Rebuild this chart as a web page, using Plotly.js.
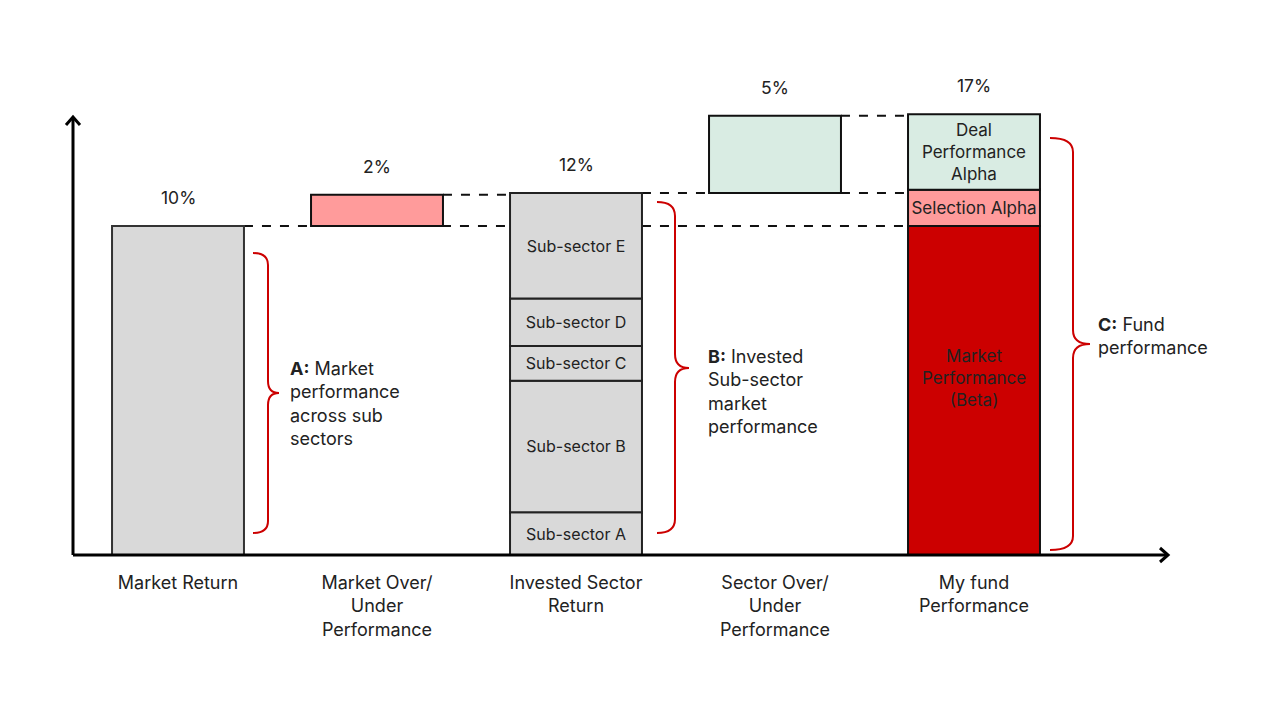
<!DOCTYPE html>
<html>
<head>
<meta charset="utf-8">
<script src="https://cdn.plot.ly/plotly-3.0.1.min.js"></script>
<style>html,body{margin:0;padding:0;background:#fff;}#chart{width:1280px;height:720px;}</style>
</head>
<body>
<div id="chart"></div>
<script>
// ---- data ----
const categories = ['Market Return', 'Market Over/<br>Under<br>Performance', 'Invested Sector<br>Return', 'Sector Over/<br>Under<br>Performance', 'My fund<br>Performance'];
const totalLabels = ['10%', '2%', '12%', '5%', '17%'];
const marketReturn = 10;
const marketOver = 0.95;
const subSectorNames = ['Sub-sector A', 'Sub-sector B', 'Sub-sector C', 'Sub-sector D', 'Sub-sector E'];
const subSectorValues = [1.3, 4.0, 1.05, 1.45, 3.2];
const sectorOver = 2.35;
const fundNames = ['Market<br>Performance<br>(Beta)', 'Selection Alpha', 'Deal<br>Performance<br>Alpha'];
const fundValues = [10, 1.1, 2.3];
const braceLabels = ['<b>A:</b> Market<br>performance<br>across sub<br>sectors', '<b>B:</b> Invested<br>Sub-sector<br>market<br>performance', '<b>C:</b> Fund<br>performance'];

// ---- style ----
const FONT = 'Inter, "Open Sans", sans-serif';
const TXT = '#222222';
const GREY = '#d9d9d9', PINK = '#ff9b9b', GREEN = '#d9ece3', RED = '#cc0000';
const BW = 0.663;
const half = BW / 2;

// layout geometry (pixels)
const L = 73, R = 1168, T = 60, B = 555;
const px = p => (p - L) / (R - L);
const py = p => (B - p) / (B - T);

const traces = [];
function addBar(x, base, h, color, text, lineColor, size) {
  traces.push({
    type: 'bar', x: [x], y: [h], base: [base], width: BW,
    marker: { color: color, line: { color: lineColor || '#111', width: 2 } },
    text: text ? [text] : undefined,
    textposition: text ? 'inside' : 'none',
    insidetextanchor: 'middle',
    constraintext: 'none',
    textfont: { family: FONT, size: size || 16, color: TXT },
    hoverinfo: 'skip', showlegend: false
  });
}

// Market Return
addBar(0, 0, marketReturn, GREY, null, '#333');
// Market over/under
addBar(1, marketReturn, marketOver, PINK, null);
// Invested sector
let cum = 0;
subSectorValues.forEach((v, i) => { addBar(2, cum, v, GREY, subSectorNames[i], '#222'); cum += v; });
const sectorTotal = cum;
// Sector over/under
addBar(3, sectorTotal, sectorOver, GREEN, null);
// Fund
let fc = 0;
const fundColors = [RED, PINK, GREEN];
const fundBases = [];
fundValues.forEach((v, i) => { fundBases.push(fc); addBar(4, fc, v, fundColors[i], i === 0 ? null : fundNames[i], null, 17); fc += v; });

const tops = [marketReturn, marketReturn + marketOver, sectorTotal, sectorTotal + sectorOver, fc];

const annotations = tops.map((t, i) => ({
  x: i, y: t, xref: 'x', yref: 'y', text: totalLabels[i], showarrow: false,
  yanchor: 'bottom', yshift: 16, font: { family: FONT, size: 17.5, color: TXT }
}));
// beta label (slightly above the bar centre, as in the original)
annotations.push({ x: 4, y: fundBases[0] + fundValues[0] / 2, xref: 'x', yref: 'y', text: fundNames[0],
  showarrow: false, yshift: 13, font: { family: FONT, size: 17, color: TXT } });

// dashed connectors
const shapes = [];
function dash(x0, x1, y) {
  shapes.push({ type: 'line', xref: 'x', yref: 'y', x0: x0, x1: x1, y0: y, y1: y, layer: 'below',
    line: { color: '#111', width: 2, dash: 'dash' } });
}
dash(0 + half, 2 - half, marketReturn);
dash(1 + half, 2 - half, marketReturn + marketOver);
dash(2 + half, 3 - half, sectorTotal);
dash(2 + half, 4 - half, fundValues[0]);
dash(3 + half, 4 - half, sectorTotal);
dash(3 + half, 4 - half, sectorTotal + sectorOver);

// axes with arrows
shapes.push({ type: 'line', xref: 'paper', yref: 'paper', x0: px(73), x1: px(1168), y0: py(555), y1: py(555), line: { color: '#000', width: 3 } });
shapes.push({ type: 'line', xref: 'paper', yref: 'paper', x0: px(73), x1: px(73), y0: py(555), y1: py(117), line: { color: '#000', width: 3 } });
shapes.push({ type: 'path', xref: 'paper', yref: 'paper',
  path: `M ${px(66)},${py(125)} L ${px(73)},${py(117)} L ${px(80)},${py(125)}`, line: { color: '#000', width: 3 } });
shapes.push({ type: 'path', xref: 'paper', yref: 'paper',
  path: `M ${px(1160)},${py(548)} L ${px(1168)},${py(555)} L ${px(1160)},${py(562)}`, line: { color: '#000', width: 3 } });

// braces
function brace(xt, xs, xp, yt, yb, ym, r) {
  const p = `M ${px(xt)},${py(yt)} Q ${px(xs)},${py(yt)} ${px(xs)},${py(yt + r)} ` +
    `L ${px(xs)},${py(ym - r)} Q ${px(xs)},${py(ym)} ${px(xp)},${py(ym)} ` +
    `Q ${px(xs)},${py(ym)} ${px(xs)},${py(ym + r)} ` +
    `L ${px(xs)},${py(yb - r)} Q ${px(xs)},${py(yb)} ${px(xt)},${py(yb)}`;
  shapes.push({ type: 'path', xref: 'paper', yref: 'paper', path: p, line: { color: RED, width: 2 } });
}
brace(253, 268, 279, 253, 533, 393, 12);
brace(657, 675, 689, 202, 533, 368, 14);
brace(1050, 1073, 1090, 138, 550, 344, 14);

const braceLabelPos = [[288, 403], [706, 391], [1096, 336]];
braceLabels.forEach((t, i) => {
  annotations.push({ xref: 'paper', yref: 'paper', x: px(braceLabelPos[i][0]), y: py(braceLabelPos[i][1]),
    xanchor: 'left', yanchor: 'middle', align: 'left', text: t, showarrow: false,
    font: { family: FONT, size: 18, color: TXT } });
});

const layout = {
  width: 1280, height: 720,
  margin: { l: L, r: 1280 - R, t: T, b: 720 - B },
  paper_bgcolor: '#fff', plot_bgcolor: '#fff',
  barmode: 'overlay', showlegend: false,
  font: { family: FONT, color: TXT },
  xaxis: {
    range: [(L - 178) / 199, (R - 178) / 199], tickvals: [0, 1, 2, 3, 4], ticktext: categories,
    showgrid: false, zeroline: false, showline: false, ticks: '', ticklabelstandoff: 15,
    tickfont: { family: FONT, size: 18, color: TXT }, fixedrange: true
  },
  yaxis: { range: [0, (B - T) / 32.9], visible: false, showgrid: false, zeroline: false, fixedrange: true },
  shapes: shapes, annotations: annotations
};

Plotly.newPlot('chart', traces, layout, { displayModeBar: false, staticPlot: true });
</script>
</body>
</html>
